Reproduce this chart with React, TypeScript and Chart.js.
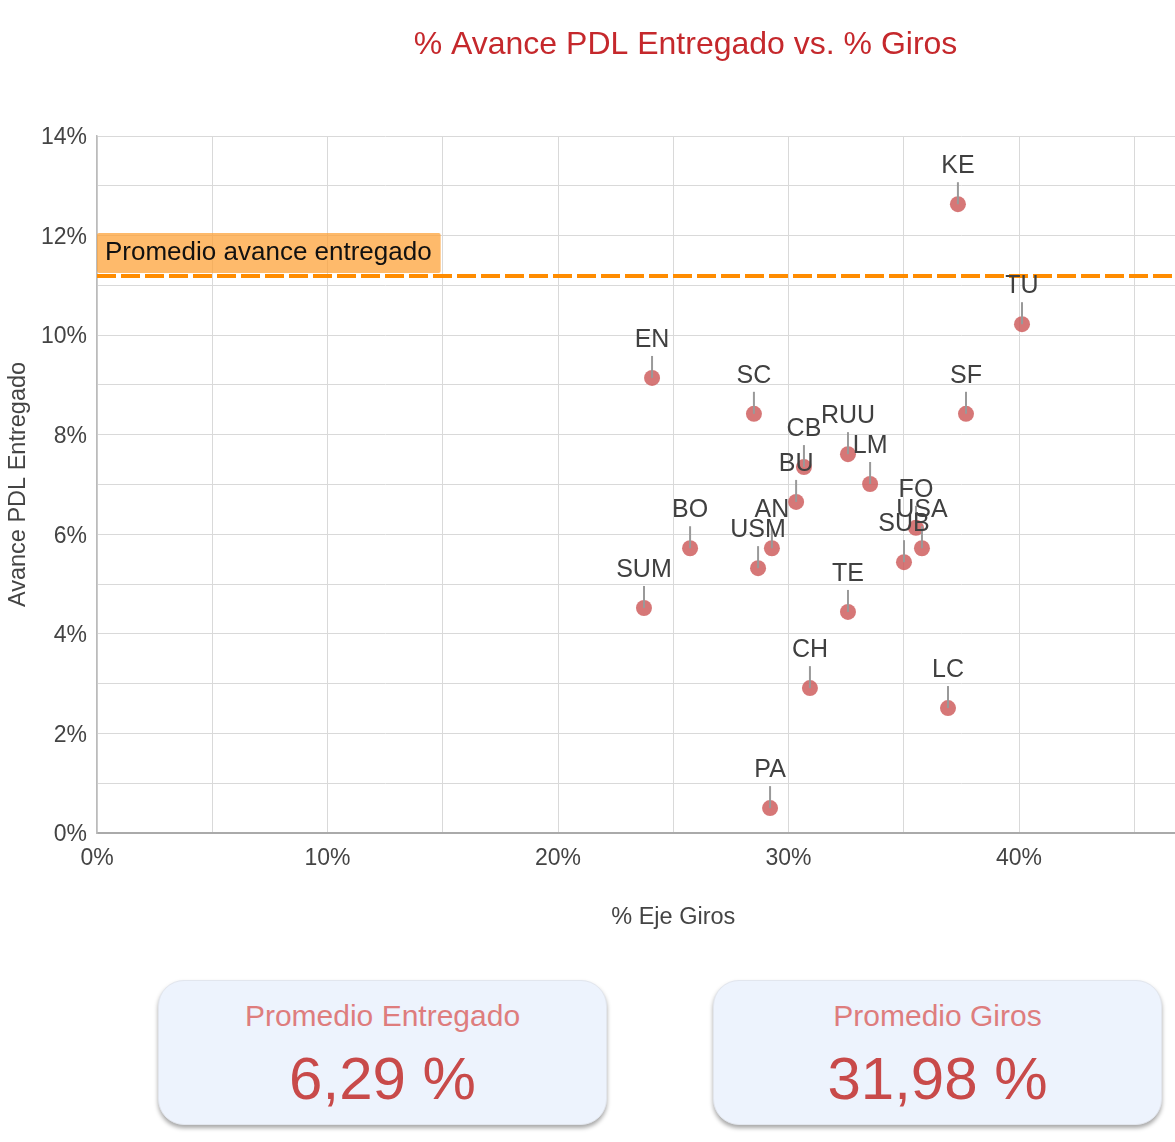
import React, { useEffect, useRef } from "react";
import { Chart, registerables } from "chart.js";

Chart.register(...registerables);

const pointNames = ["KE", "TU", "EN", "SC", "SF", "RUU", "CB", "LM", "BU", "FO", "USA", "SUB", "AN", "USM", "BO", "SUM", "TE", "CH", "LC", "PA"];
const girosValues = [37.35, 40.13, 24.08, 28.5, 37.7, 32.58, 30.67, 33.54, 30.33, 35.53, 35.79, 35.01, 29.28, 28.68, 25.73, 23.73, 32.58, 30.93, 36.92, 29.2];
const avanceValues = [12.63, 10.22, 9.14, 8.42, 8.42, 7.61, 7.35, 7.01, 6.65, 6.13, 5.72, 5.44, 5.72, 5.32, 5.72, 4.52, 4.44, 2.91, 2.51, 0.5];
const avgLineValue = 11.19;
const avgLineLabel = "Promedio avance entregado";
const chartTitle = "% Avance PDL Entregado vs. % Giros";
const xAxisTitle = "% Eje Giros";
const yAxisTitle = "Avance PDL Entregado";
const cardLabels = ["Promedio Entregado", "Promedio Giros"];
const cardValues = ["6,29 %", "31,98 %"];

const FONT = "'Liberation Sans', Arial, sans-serif";

const titlePlugin = {
  id: "centeredTitle",
  afterDraw(chart: any) {
    const ctx = chart.ctx;
    ctx.save();
    ctx.font = `32px ${FONT}`;
    ctx.fillStyle = "#c5282c";
    ctx.textAlign = "center";
    ctx.textBaseline = "middle";
    ctx.fillText(chartTitle, chart.width / 2, 45);
    ctx.restore();
  },
};

const avgLinePlugin = {
  id: "avgLine",
  beforeDatasetsDraw(chart: any) {
    const ctx = chart.ctx;
    const { left, right } = chart.chartArea;
    const yPix = chart.scales.y.getPixelForValue(avgLineValue);
    ctx.save();
    ctx.font = `26px ${FONT}`;
    const tw = ctx.measureText(avgLineLabel).width;
    ctx.fillStyle = "rgba(253,160,50,0.72)";
    ctx.beginPath();
    if (ctx.roundRect) ctx.roundRect(left, yPix - 43, tw + 17, 40, 2);
    else ctx.rect(left, yPix - 43, tw + 17, 40);
    ctx.fill();
    ctx.fillStyle = "#111";
    ctx.textAlign = "left";
    ctx.textBaseline = "middle";
    ctx.fillText(avgLineLabel, left + 8, yPix - 23);
    ctx.strokeStyle = "#ff8c00";
    ctx.lineWidth = 4;
    ctx.setLineDash([19, 5]);
    ctx.beginPath();
    ctx.moveTo(left, yPix);
    ctx.lineTo(right, yPix);
    ctx.stroke();
    ctx.restore();
  },
};

const pointLabelPlugin = {
  id: "pointLabels",
  afterDatasetsDraw(chart: any) {
    const ctx = chart.ctx;
    const meta = chart.getDatasetMeta(0);
    ctx.save();
    meta.data.forEach((el: any, i: number) => {
      const { x, y } = el.getProps(["x", "y"], true);
      ctx.strokeStyle = "#999";
      ctx.lineWidth = 2;
      ctx.beginPath();
      ctx.moveTo(x, y - 22);
      ctx.lineTo(x, y);
      ctx.stroke();
      ctx.fillStyle = "#404040";
      ctx.font = `25px ${FONT}`;
      ctx.textAlign = "center";
      ctx.textBaseline = "middle";
      ctx.fillText(pointNames[i], x, y - 38);
    });
    ctx.restore();
  },
};

function Card({ left, label, value }: { left: number; label: string; value: string }) {
  return (
    <div
      style={{
        position: "absolute",
        left,
        top: 980,
        width: 449,
        height: 145,
        boxSizing: "border-box",
        borderRadius: 26,
        background: "#edf3fd",
        border: "1px solid #e2e6ee",
        boxShadow: "0 3px 4px rgba(0,0,0,0.35)",
        fontFamily: FONT,
        textAlign: "center",
      }}
    >
      <div style={{ position: "absolute", left: 0, right: 0, top: 17, lineHeight: "36px", fontSize: 30, color: "#de7d7d" }}>{label}</div>
      <div style={{ position: "absolute", left: 0, right: 0, top: 63, lineHeight: "70px", fontSize: 60, color: "#c84a4a" }}>{value}</div>
    </div>
  );
}

export default function App() {
  const canvasRef = useRef<HTMLCanvasElement | null>(null);

  useEffect(() => {
    if (!canvasRef.current) return;
    const data = girosValues.map((g, i) => ({ x: g, y: avanceValues[i] }));
    const chart = new Chart(canvasRef.current, {
      type: "scatter",
      data: {
        datasets: [
          {
            label: "Avance",
            data,
            backgroundColor: "rgba(204,85,85,0.8)",
            borderWidth: 0,
            pointRadius: 8,
            pointHoverRadius: 8,
          },
        ],
      },
      options: {
        responsive: false,
        animation: false,
        devicePixelRatio: 1,
        layout: { padding: { left: 0, right: 121.5, top: 136, bottom: 0 } },
        plugins: {
          legend: { display: false },
          tooltip: { enabled: false },
          title: { display: false },
        },
        scales: {
          x: {
            type: "linear",
            min: 0,
            max: 50,
            afterFit: (s: any) => {
              s.height = 107;
            },
            ticks: {
              stepSize: 5,
              autoSkip: false,
              maxRotation: 0,
              padding: 12,
              color: "#444",
              font: { family: FONT, size: 23 },
              callback: (v: any) => (Number(v) % 10 === 0 ? `${v}%` : ""),
            },
            grid: { color: "#d9d9d9", lineWidth: 1, drawTicks: false },
            border: { color: "#aaaaaa", width: 2 },
            title: {
              display: true,
              text: xAxisTitle,
              color: "#444",
              font: { family: FONT, size: 23.5 },
              padding: { top: 0, bottom: 8.5 },
            },
          },
          y: {
            type: "linear",
            min: 0,
            max: 14,
            afterFit: (s: any) => {
              s.width = 97;
            },
            ticks: {
              stepSize: 1,
              autoSkip: false,
              padding: 10,
              labelOffset: 2,
              color: "#444",
              font: { family: FONT, size: 23, lineHeight: 1.0 },
              callback: (v: any) => (Number(v) % 2 === 0 ? `${v}%` : ""),
            },
            grid: { color: "#d9d9d9", lineWidth: 1, drawTicks: false },
            border: { color: "#bbbbbb", width: 1.5 },
            title: {
              display: true,
              text: yAxisTitle,
              color: "#444",
              font: { family: FONT, size: 23.5 },
              padding: { top: 4, bottom: 0 },
            },
          },
        },
      },
      plugins: [avgLinePlugin, pointLabelPlugin, titlePlugin],
    });
    return () => chart.destroy();
  }, []);

  return (
    <div style={{ position: "absolute", left: 0, top: 0, width: 1175, height: 1142, overflow: "hidden", background: "#fff" }}>
      <canvas ref={canvasRef} width={1371} height={940} style={{ position: "absolute", left: 0, top: 0, width: 1371, height: 940 }} />
      <Card left={158} label={cardLabels[0]} value={cardValues[0]} />
      <Card left={713} label={cardLabels[1]} value={cardValues[1]} />
    </div>
  );
}
